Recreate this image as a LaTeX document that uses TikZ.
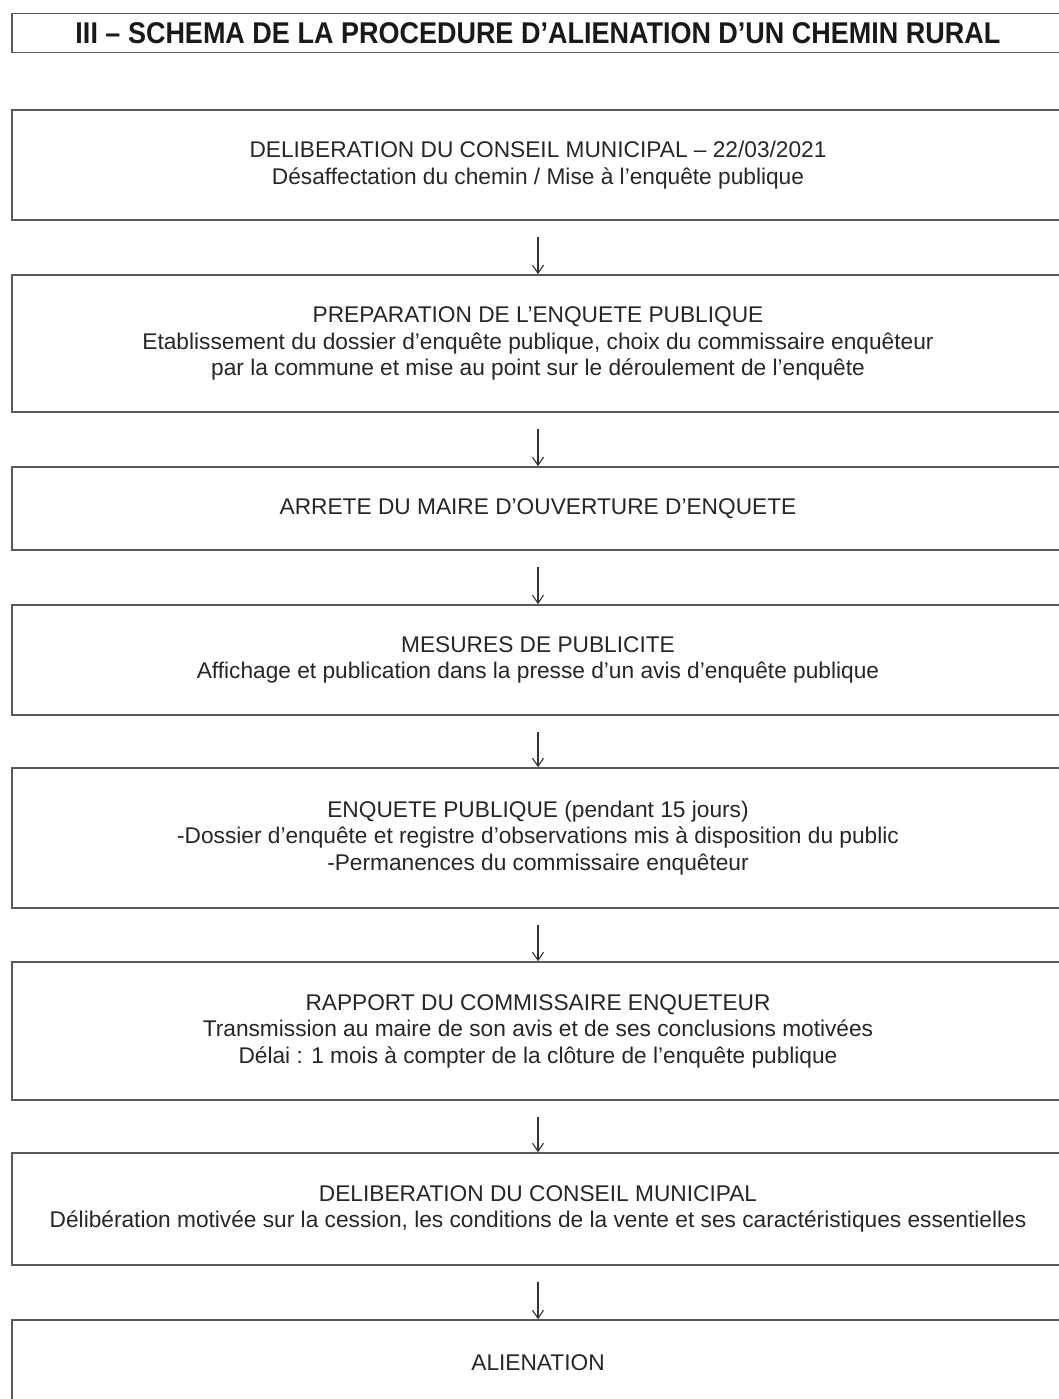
\documentclass[tikz,border=0pt]{standalone}
\usepackage{fontspec}
\setmainfont{Liberation Sans}
\newfontfamily\titlefont{Liberation Sans}[FakeStretch=0.9]
\usetikzlibrary{positioning,arrows.meta}
\tikzset{stepbox/.style={draw=black!65,line width=1.6pt,rectangle,minimum width=1052pt,align=center,
        font=\fontsize{22.7}{26.5}\selectfont,text=black!85},
    titlebox/.style={draw=black!65,line width=1.6pt,rectangle,minimum width=1052pt,minimum height=39pt,
        font=\titlefont\bfseries\fontsize{30}{32}\selectfont,text=black!90},
    flecha/.style={-{Straight Barb[length=8pt,width=11pt,line width=1.1pt]},line width=1.1pt,draw=black!80,shorten <=16pt}}

\begin{document}
\begin{tikzpicture}[x=1pt,y=-1pt]

\useasboundingbox (0,0) rectangle (1059,1399);

\node (titre) [titlebox] at (538,33) {III – SCHEMA DE LA PROCEDURE D’ALIENATION D’UN CHEMIN RURAL};

\node (b1) [stepbox,minimum height=110pt] at (538,165)
    {DELIBERATION DU CONSEIL MUNICIPAL – 22/03/2021\\Désaffectation du chemin / Mise à l’enquête publique};
\node (b2) [stepbox,minimum height=137pt] at (538,343.5)
    {PREPARATION DE L’ENQUETE PUBLIQUE\\Etablissement du dossier d’enquête publique, choix du commissaire enquêteur\\par la commune et mise au point sur le déroulement de l’enquête};
\node (b3) [stepbox,minimum height=83pt] at (538,508.5)
    {ARRETE DU MAIRE D’OUVERTURE D’ENQUETE};
\node (b4) [stepbox,minimum height=110pt] at (538,660)
    {MESURES DE PUBLICITE\\Affichage et publication dans la presse d’un avis d’enquête publique};
\node (b5) [stepbox,minimum height=140pt] at (538,838)
    {ENQUETE PUBLIQUE (pendant 15 jours)\\-Dossier d’enquête et registre d’observations mis à disposition du public\\-Permanences du commissaire enquêteur};
\node (b6) [stepbox,minimum height=138pt] at (538,1031)
    {RAPPORT DU COMMISSAIRE ENQUETEUR\\Transmission au maire de son avis et de ses conclusions motivées\\Délai : 1 mois à compter de la clôture de l’enquête publique};
\node (b7) [stepbox,minimum height=112pt] at (538,1209)
    {DELIBERATION DU CONSEIL MUNICIPAL\\Délibération motivée sur la cession, les conditions de la vente et ses caractéristiques essentielles};
\node (b8) [stepbox,minimum height=85pt] at (538,1362.5)
    {ALIENATION};

\foreach \haut/\bas in {b1/b2,b2/b3,b3/b4,b4/b5,b5/b6,b6/b7,b7/b8}
    \draw [flecha] (\haut.south) -- (\bas.north);

\end{tikzpicture}
\end{document}
